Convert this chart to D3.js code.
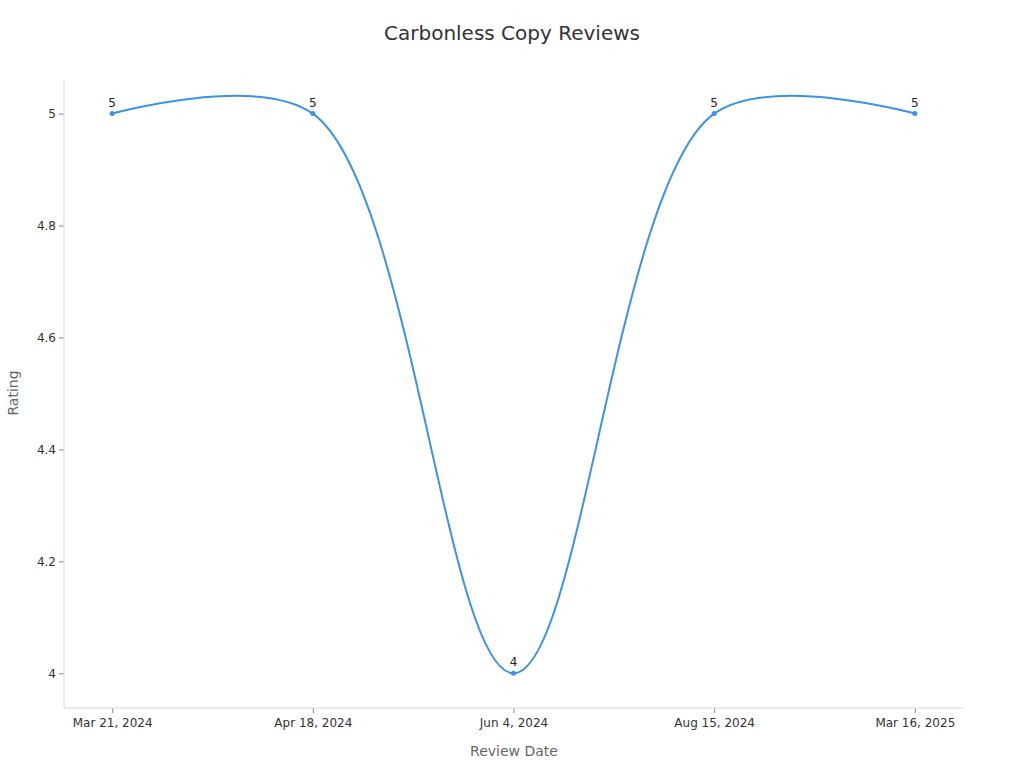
<!DOCTYPE html>
<html><head><meta charset="utf-8">
<script src="https://cdn.jsdelivr.net/npm/d3@7"></script>
<style>body{margin:0;background:#fff;} svg{display:block;font-family:"DejaVu Sans",sans-serif;}</style>
</head><body>
<svg id="c" width="1024" height="768"></svg>
<script>
const categories = ["Mar 21, 2024","Apr 18, 2024","Jun 4, 2024","Aug 15, 2024","Mar 16, 2025"];
const ratings = [5,5,4,5,5];
const yTicks = [4,4.2,4.4,4.6,4.8,5];

const svg = d3.select("#c");
const pLeft=64, pRight=963, pTop=80, pBottom=708;
const x = d3.scalePoint().domain(categories).range([pLeft,pRight]).padding(0.24);
const y = d3.scaleLinear().domain([3.938,5.06]).range([pBottom,pTop]);

svg.append("text").attr("x",512).attr("y",40).attr("text-anchor","middle")
  .attr("font-size",20).attr("fill","#333").text("Carbonless Copy Reviews");

const gx = svg.append("g").attr("transform",`translate(0,${pBottom})`)
  .call(d3.axisBottom(x).tickSize(5).tickPadding(5));
gx.select(".domain").remove();
gx.append("line").attr("x1",pLeft).attr("x2",pRight).attr("stroke","#d6d6d6");
gx.selectAll(".tick line").attr("stroke","#888");
gx.selectAll(".tick text").attr("fill","#333").attr("font-size",12).attr("font-family","DejaVu Sans");

const gy = svg.append("g").attr("transform",`translate(${pLeft},0)`)
  .call(d3.axisLeft(y).tickValues(yTicks).tickFormat(d3.format("")).tickSize(5).tickPadding(3));
gy.select(".domain").remove();
gy.append("line").attr("y1",pTop).attr("y2",pBottom).attr("stroke","#d6d6d6");
gy.selectAll(".tick line").attr("stroke","#888");
gy.selectAll(".tick text").attr("fill","#333").attr("font-size",12).attr("font-family","DejaVu Sans");

svg.append("text").attr("x",514).attr("y",756).attr("text-anchor","middle")
  .attr("font-size",14).attr("fill","#666").text("Review Date");
svg.append("text").attr("transform","translate(18,393) rotate(-90)").attr("text-anchor","middle")
  .attr("font-size",14).attr("fill","#666").text("Rating");

const data = categories.map((c,i)=>({c,v:ratings[i]}));
const line = d3.line().x(d=>x(d.c)).y(d=>y(d.v)).curve(d3.curveCatmullRom.alpha(0.5));
svg.append("path").datum(data).attr("d",line).attr("fill","none")
  .attr("stroke","#3a93e6").attr("stroke-width",2);
svg.selectAll("circle.p").data(data).join("circle").attr("class","p")
  .attr("cx",d=>x(d.c)).attr("cy",d=>y(d.v)).attr("r",2.5).attr("fill","#3a93e6");
svg.selectAll("text.l").data(data).join("text").attr("class","l")
  .attr("x",d=>x(d.c)).attr("y",d=>y(d.v)-7).attr("text-anchor","middle")
  .attr("font-size",12).attr("fill","#222").text(d=>d.v);
</script>
</body></html>
